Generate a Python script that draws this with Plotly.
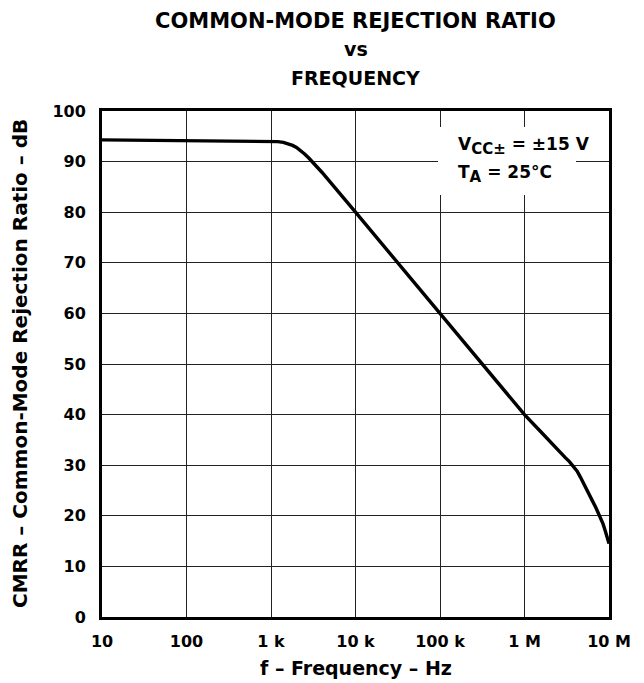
import plotly.graph_objects as go

freq_hz = [10, 100, 1000, 1200, 1400, 1600, 1800, 2000, 2200, 2500, 2800,
           3200, 4000, 10000, 100000, 316000, 1000000, 1500000, 2000000,
           2500000, 3000000, 3400000, 3800000, 4200000, 4600000, 5000000,
           5600000, 6300000, 7000000, 7900000, 8500000, 9000000, 9500000,
           10000000]
cmrr_db = [94.3, 94.2, 94.0, 93.95, 93.8, 93.55, 93.2, 92.8, 92.3, 91.5, 90.7,
           89.6, 87.9, 80.0, 60.0, 50.0, 40.0, 36.9, 34.6,
           32.9, 31.6, 30.7, 29.8, 28.8, 27.6, 26.5,
           24.9, 23.1, 21.6, 19.8, 18.4, 17.1, 15.8,
           14.5]

x_tickvals = [10, 100, 1000, 10000, 100000, 1000000, 10000000]
x_ticktext = ["10", "100", "1 k", "10 k", "100 k", "1 M", "10 M"]
y_tickvals = [0, 10, 20, 30, 40, 50, 60, 70, 80, 90, 100]

FONT = "DejaVu Sans, Liberation Sans, Arial, sans-serif"
OFF = 8  # default page margin of the html body
W, H = 644 - OFF, 683 - OFF
L, T = 102 - OFF, 111 - OFF
PW, PH = 507, 506
R = W - L - PW
B = H - T - PH


def px_x(px):
    return (px - OFF - L) / PW


def px_y(py):
    return (H - B - (py - OFF)) / PH


fig = go.Figure()
fig.add_trace(go.Scatter(
    x=freq_hz, y=cmrr_db, mode="lines",
    line=dict(color="black", width=3.4),
    hoverinfo="skip", showlegend=False,
))

tickfont = dict(family=FONT, size=16, color="black", weight="bold")
fig.update_layout(
    width=W, height=H,
    margin=dict(l=L, r=R, t=T, b=B, autoexpand=False),
    paper_bgcolor="white", plot_bgcolor="white",
    font=dict(family=FONT, color="black", size=16),
    xaxis=dict(
        type="log", range=[1, 7],
        tickvals=x_tickvals, ticktext=x_ticktext, tickfont=tickfont,
        showgrid=True, gridcolor="#222222", gridwidth=1,
        showline=True, linecolor="black", linewidth=3, mirror=True,
        ticks="", zeroline=False, ticklabelstandoff=8,
    ),
    yaxis=dict(
        range=[0, 100], tickvals=y_tickvals, tickfont=tickfont,
        showgrid=True, gridcolor="#222222", gridwidth=1,
        showline=True, linecolor="black", linewidth=3, mirror=True,
        ticks="", zeroline=False, ticklabelstandoff=10,
    ),
)

# white patch behind the condition text (hides the grid there)
fig.add_shape(type="rect", xref="paper", yref="paper",
              x0=px_x(438), x1=px_x(576), y0=px_y(195), y1=px_y(127),
              fillcolor="white", line=dict(width=0), layer="above")

cond_font = dict(family=FONT, size=17, color="black")
SUB = '<span style="font-size:15px">'
fig.add_annotation(
    xref="paper", yref="paper", x=px_x(456), y=px_y(146),
    xanchor="left", yanchor="middle", align="left", showarrow=False,
    text="<b>V<sub>" + SUB + "CC±</span></sub> = ±15 V</b>", font=cond_font,
)
fig.add_annotation(
    xref="paper", yref="paper", x=px_x(456), y=px_y(174),
    xanchor="left", yanchor="middle", align="left", showarrow=False,
    text="<b>T<sub>" + SUB + "A</span></sub> = 25°C</b>", font=cond_font,
)

titles = [("COMMON-MODE REJECTION RATIO", 21, 21), ("vs", 49, 19),
          ("FREQUENCY", 78, 19)]
for txt, py, size in titles:
    fig.add_annotation(
        xref="paper", yref="paper", x=0.5, y=px_y(py),
        xanchor="center", yanchor="middle", showarrow=False,
        text="<b>" + txt + "</b>",
        font=dict(family=FONT, size=size, color="black"),
    )

fig.add_annotation(
    xref="paper", yref="paper", x=0.5, y=px_y(668),
    xanchor="center", yanchor="middle", showarrow=False,
    text="<b>f – Frequency – Hz</b>",
    font=dict(family=FONT, size=19, color="black"),
)
fig.add_annotation(
    xref="paper", yref="paper", x=px_x(20), y=px_y(364),
    xanchor="center", yanchor="middle", showarrow=False, textangle=-90,
    text="<b>CMRR – Common-Mode Rejection Ratio – dB</b>",
    font=dict(family=FONT, size=20, color="black"),
)

fig.write_html("out.html")
